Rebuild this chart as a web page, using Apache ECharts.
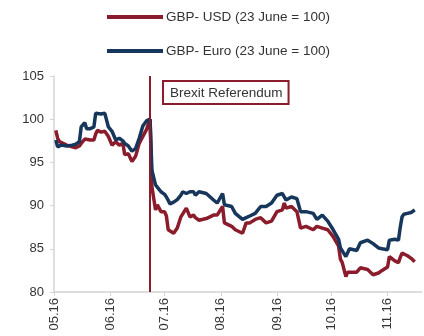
<!DOCTYPE html>
<html><head><meta charset="utf-8">
<script src="https://cdn.jsdelivr.net/npm/echarts@6/dist/echarts.min.js"></script>
<style>html,body{margin:0;padding:0;background:#fff}#c{width:424px;height:336px}</style>
</head><body><div id="c"></div>
<script>
const dates = ['2016-05-02','2016-05-03','2016-05-04','2016-05-05','2016-05-08','2016-05-11','2016-05-13','2016-05-15','2016-05-16','2016-05-18','2016-05-19','2016-05-21','2016-05-23','2016-05-24','2016-05-25','2016-05-27','2016-05-29','2016-05-31','2016-06-02','2016-06-04','2016-06-06','2016-06-08','2016-06-09','2016-06-11','2016-06-13','2016-06-15','2016-06-17','2016-06-19','2016-06-21','2016-06-23','2016-06-24','2016-06-26','2016-06-27','2016-06-29','2016-07-01','2016-07-02','2016-07-03','2016-07-04','2016-07-06','2016-07-08','2016-07-10','2016-07-11','2016-07-13','2016-07-15','2016-07-17','2016-07-18','2016-07-20','2016-07-24','2016-07-28','2016-07-30','2016-08-02','2016-08-03','2016-08-07','2016-08-09','2016-08-13','2016-08-15','2016-08-17','2016-08-20','2016-08-23','2016-08-26','2016-08-29','2016-09-01','2016-09-04','2016-09-05','2016-09-06','2016-09-09','2016-09-12','2016-09-14','2016-09-17','2016-09-21','2016-09-23','2016-09-26','2016-09-29','2016-10-02','2016-10-05','2016-10-06','2016-10-07','2016-10-09','2016-10-10','2016-10-11','2016-10-15','2016-10-17','2016-10-21','2016-10-24','2016-10-25','2016-10-27','2016-10-29','2016-11-01','2016-11-02','2016-11-03','2016-11-05','2016-11-07','2016-11-08','2016-11-09','2016-11-10','2016-11-12','2016-11-14','2016-11-16'];
const gbpUsd = [98.7,97.8,97.4,97.3,97.0,96.8,96.7,96.9,97.2,97.7,97.8,97.6,97.6,98.3,98.7,98.5,98.6,98.0,97.0,97.4,97.0,97.2,95.9,96.0,95.1,95.7,97.2,98.0,98.8,100,92.2,89.5,90.1,89.3,89.3,88.8,87.2,87.0,86.8,87.4,88.7,88.9,89.7,88.7,88.9,88.6,88.3,88.5,88.9,88.9,89.9,88.0,87.6,87.2,86.8,88.0,88.0,88.4,88.6,88.0,88.2,89.3,89.5,90.3,89.7,89.9,89.3,87.4,87.6,87.2,87.6,87.4,87.2,86.4,85.3,83.8,83.4,81.8,82.3,82.5,82.3,82.8,82.6,82.0,81.9,82.2,82.5,82.9,84.1,84.2,83.6,83.4,84.0,84.5,84.7,84.2,83.9,83.5];
const gbpEur = [97.6,96.8,96.6,97.0,96.9,97.0,97.1,97.4,99.1,99.6,98.9,98.9,99.1,100.7,100.5,100.6,100.7,99.1,98.6,97.6,97.8,97.5,97.2,96.9,96.3,96.6,97.8,99.2,99.8,100,94.1,92.4,92.2,91.6,91.3,91.0,90.6,90.2,90.4,90.7,91.2,91.6,91.4,91.6,91.6,91.2,91.6,91.4,90.65,90.3,91.4,90.1,89.9,89.1,88.4,88.6,88.8,89.1,89.9,89.9,90.3,91.2,91.4,91.0,90.65,91.0,90.8,89.3,89.3,89.1,88.4,88.9,88.2,87.2,86.1,85.1,85.1,84.1,84.3,85.0,84.8,85.7,86.0,85.6,85.4,85.1,85.0,84.9,86.0,86.1,86.1,86.0,87.5,88.7,89.0,89.1,89.2,89.5];
const seriesNames = ['GBP- USD (23 June = 100)','GBP- Euro (23 June = 100)'];
const eventDate = '2016-06-23';
const eventLabel = 'Brexit Referendum';
const yTicks = {min:80, max:105, step:5};
const xRange = ['2016-05-01','2016-11-20'];

const RED = '#8a1c2c', BLUE = '#16365c', TXT = '#333333', AX = '#d4d4d4';
const FONT = 'Liberation Sans, Arial, sans-serif';
const chart = echarts.init(document.getElementById('c'), null, {renderer:'canvas'});
const pad = n => (n<10?'0':'')+n;
const legendText = {fontSize:13.5, color:TXT, fontFamily:FONT, padding:[0,0,0,-2]};
chart.setOption({
  animation:false,
  textStyle:{fontFamily:FONT},
  legend:[
    {data:[seriesNames[0]], left:107, top:10, padding:0, icon:'rect', itemWidth:56, itemHeight:4, itemGap:0, textStyle:legendText},
    {data:[seriesNames[1]], left:107, top:44, padding:0, icon:'rect', itemWidth:56, itemHeight:4, itemGap:0, textStyle:legendText}
  ],
  grid:{left:54, right:2, top:76, bottom:44, containLabel:false},
  xAxis:{type:'time', min:xRange[0], max:xRange[1],
    minInterval:28*86400000, maxInterval:31*86400000,
    axisLine:{lineStyle:{color:AX, width:1.5}},
    axisTick:{show:true, length:4, lineStyle:{color:AX, width:1}},
    splitLine:{show:false},
    axisLabel:{rotate:90, fontSize:13, color:TXT, fontFamily:FONT, margin:6, showMinLabel:true,
      formatter:v=>{const d=new Date(v); return pad(d.getMonth()+1)+'.'+String(d.getFullYear()).slice(2);}}
  },
  yAxis:{type:'value', min:yTicks.min, max:yTicks.max, interval:yTicks.step,
    axisLine:{show:true, lineStyle:{color:AX, width:1.5}},
    axisTick:{show:true, length:4, lineStyle:{color:AX}},
    splitLine:{show:false},
    axisLabel:{fontSize:13, color:TXT, fontFamily:FONT, margin:10}
  },
  series:[
    {name:seriesNames[0], type:'line', showSymbol:false, color:RED,
     lineStyle:{width:3.5, color:RED}, data:dates.map((d,i)=>[d,gbpUsd[i]]),
     markLine:{silent:true, symbol:'none', label:{show:false},
       lineStyle:{color:RED, width:2, type:'solid'}, data:[{xAxis:eventDate}]}},
    {name:seriesNames[1], type:'line', showSymbol:false, color:BLUE,
     lineStyle:{width:3.5, color:BLUE}, data:dates.map((d,i)=>[d,gbpEur[i]])}
  ],
  graphic:[{type:'text', left:162, top:80, z:10,
    style:{text:eventLabel, fontSize:13.5, fontFamily:FONT, fill:TXT,
      backgroundColor:'#fff', borderColor:RED, borderWidth:2, padding:[4,5,3,6]}}]
});
</script></body></html>
